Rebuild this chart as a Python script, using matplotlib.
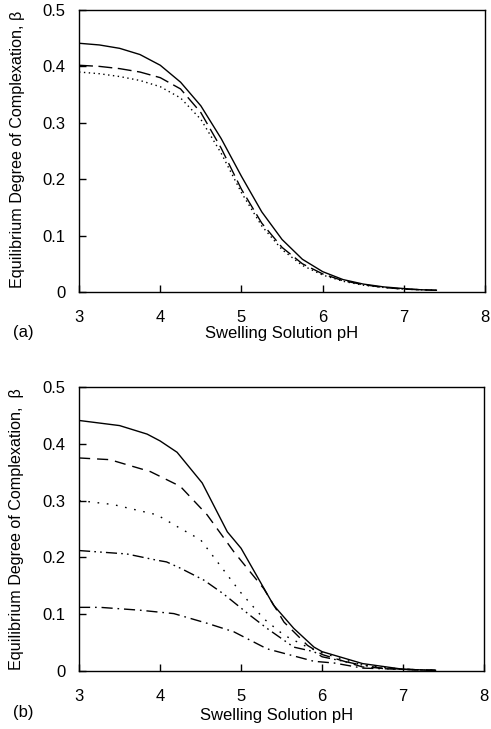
import matplotlib
matplotlib.use("Agg")
import matplotlib.pyplot as plt

plt.rcParams['font.family'] = ['Liberation Sans', 'DejaVu Sans']

# panel (a) data
ph_a = [3.0, 3.25, 3.5, 3.75, 4.0, 4.25, 4.5, 4.75, 5.0, 5.25, 5.5, 5.75, 6.0, 6.25, 6.5, 6.75, 7.0, 7.2, 7.4]
solid_a = [0.441, 0.438, 0.432, 0.421, 0.402, 0.372, 0.330, 0.272, 0.205, 0.142, 0.093, 0.058, 0.036, 0.022, 0.014, 0.009, 0.006, 0.004, 0.003]
dashed_a = [0.402, 0.400, 0.396, 0.390, 0.380, 0.360, 0.318, 0.255, 0.182, 0.122, 0.079, 0.050, 0.032, 0.020, 0.013, 0.008, 0.005, 0.004, 0.003]
dotted_a = [0.390, 0.387, 0.382, 0.375, 0.364, 0.344, 0.306, 0.246, 0.176, 0.117, 0.075, 0.047, 0.030, 0.019, 0.012, 0.008, 0.005, 0.004, 0.003]

# panel (b) data
ph_b1 = [3.0, 3.5, 3.84, 4.0, 4.21, 4.52, 4.83, 5.0, 5.4, 5.65, 5.9, 6.0, 6.5, 7.0, 7.4]
beta_b1 = [0.441, 0.432, 0.417, 0.405, 0.385, 0.331, 0.245, 0.216, 0.116, 0.075, 0.042, 0.034, 0.013, 0.003, 0.001]
ph_b2 = [3.0, 3.38, 3.88, 4.25, 4.58, 4.91, 5.28, 5.53, 5.82, 6.0, 6.5, 7.0, 7.4]
beta_b2 = [0.375, 0.372, 0.351, 0.325, 0.275, 0.210, 0.145, 0.086, 0.045, 0.029, 0.007, 0.003, 0.001]
ph_b3 = [3.0, 3.42, 3.96, 4.25, 4.5, 4.74, 4.99, 5.28, 5.53, 5.82, 6.0, 6.5, 7.0, 7.4]
beta_b3 = [0.300, 0.293, 0.275, 0.251, 0.231, 0.186, 0.139, 0.092, 0.063, 0.042, 0.032, 0.010, 0.003, 0.001]
ph_b4 = [3.0, 3.59, 3.96, 4.08, 4.25, 4.54, 4.78, 5.11, 5.32, 5.65, 5.9, 6.0, 6.4, 6.76, 7.0, 7.4]
beta_b4 = [0.212, 0.206, 0.195, 0.192, 0.181, 0.160, 0.136, 0.098, 0.075, 0.042, 0.034, 0.025, 0.013, 0.004, 0.003, 0.001]
ph_b5 = [3.0, 3.26, 3.75, 4.17, 4.58, 4.91, 5.32, 5.61, 5.9, 6.15, 6.5, 7.0, 7.4]
beta_b5 = [0.112, 0.112, 0.107, 0.101, 0.084, 0.069, 0.039, 0.028, 0.017, 0.014, 0.005, 0.003, 0.001]

xticks = [3, 4, 5, 6, 7, 8]
yticks = [0, 0.1, 0.2, 0.3, 0.4, 0.5]
ytick_labels = ['0', '0.1', '0.2', '0.3', '0.4', '0.5']

fs = 12

fig = plt.figure(figsize=(4.91, 7.29), dpi=100)
ax_a = fig.add_axes([0.161, 0.5995, 0.827, 0.3868])
ax_b = fig.add_axes([0.161, 0.0796, 0.825, 0.3896])

lw = 1.0
ax_a.plot(ph_a, solid_a, color='black', lw=lw)
ax_a.plot(ph_a, dashed_a, color='black', lw=lw, dashes=(10, 4))
ax_a.plot(ph_a, dotted_a, color='black', lw=lw, dashes=(1, 2.5))

ax_b.plot(ph_b1, beta_b1, color='black', lw=lw)
ax_b.plot(ph_b2, beta_b2, color='black', lw=lw, dashes=(8, 5))
ax_b.plot(ph_b3, beta_b3, color='black', lw=lw, dashes=(1.2, 5.5))
ax_b.plot(ph_b4, beta_b4, color='black', lw=lw, dashes=(8, 3, 1.2, 3, 1.2, 3))
ax_b.plot(ph_b5, beta_b5, color='black', lw=lw, dashes=(8, 3.5, 1.2, 3.5))

for ax in (ax_a, ax_b):
    ax.set_xlim(3, 8)
    ax.set_ylim(0, 0.5)
    ax.set_xticks(xticks)
    ax.set_xticklabels([str(t) for t in xticks])
    ax.set_yticks(yticks)
    ax.set_yticklabels(ytick_labels)
    ax.tick_params(direction='in', length=5, width=1, labelsize=fs)
    ax.tick_params(axis='x', pad=13)
    ax.tick_params(axis='y', pad=10)
    for sp in ax.spines.values():
        sp.set_linewidth(1.0)
    ax.set_xlabel('Swelling Solution pH', fontsize=fs)

ax_a.set_ylabel('Equilibrium Degree of Complexation, β', fontsize=11.6)
ax_b.set_ylabel('Equilibrium Degree of Complexation,  β', fontsize=11.6)
ax_a.xaxis.set_label_coords(0.499, -0.122)
ax_a.yaxis.set_label_coords(-0.133, 0.504)
ax_b.xaxis.set_label_coords(0.488, -0.132)
ax_b.yaxis.set_label_coords(-0.136, 0.5)

fig.text(13 / 491, 1 - 332 / 729, '(a)', fontsize=fs, va='center', ha='left')
fig.text(13 / 491, 1 - 712 / 729, '(b)', fontsize=fs, va='center', ha='left')

fig.savefig('out.png', dpi=100)
